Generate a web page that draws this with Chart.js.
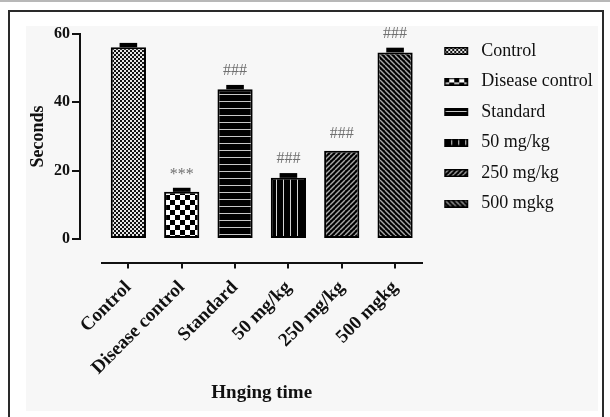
<!DOCTYPE html>
<html><head><meta charset="utf-8">
<script src="https://cdn.jsdelivr.net/npm/chart.js@4.4.1/dist/chart.umd.min.js"></script>
<style>
html,body{margin:0;padding:0;background:#fff;width:610px;height:417px;overflow:hidden}
#topline{position:absolute;left:0;top:0;width:610px;height:2px;background:#b8b8b8}
#frame{position:absolute;left:8px;top:10px;width:596px;height:420px;border:2px solid #2a2a2a;box-sizing:border-box;background:#fff}
#inner{position:absolute;left:26px;top:26px;width:572px;height:385px;background:#f7f7f7}
canvas{position:absolute;left:0;top:0}
</style></head>
<body>
<div id="topline"></div><div id="frame"></div><div id="inner"></div>
<canvas id="c" width="610" height="417"></canvas>
<script>
const categories = ['Control', 'Disease control', 'Standard', '50 mg/kg', '250 mg/kg', '500 mgkg'];
const legendLabels = ['Control', 'Disease control', 'Standard', '50 mg/kg', '250 mg/kg', '500 mgkg'];
const meanSeconds = [56.1, 13.8, 43.8, 17.9, 25.8, 54.6];
const semSeconds = [1.0, 0.9, 1.0, 1.1, 0, 1.1];
const significance = ['', '***', '###', '###', '###', '###'];
const yTicks = [0, 20, 40, 60];

const SERIF = '"Liberation Serif", "Times New Roman", serif';

function tile(w, h, fn) {
  const cv = document.createElement('canvas');
  cv.width = w; cv.height = h;
  fn(cv.getContext('2d'), w, h);
  return cv;
}
const tiles = [
  tile(4, 4, (g) => { g.fillStyle = '#e6e6e6'; g.fillRect(0,0,4,4); g.fillStyle = '#111'; g.fillRect(0,0,2,2); g.fillRect(2,2,2,2); }),
  tile(10, 10, (g) => { g.fillStyle = '#fff'; g.fillRect(0,0,10,10); g.fillStyle = '#000'; g.fillRect(0,0,5,5); g.fillRect(5,5,5,5); }),
  tile(8, 7, (g) => { g.fillStyle = '#000'; g.fillRect(0,0,8,7); g.fillStyle = '#c8c8c8'; g.fillRect(0,3,8,1); }),
  tile(7, 8, (g) => { g.fillStyle = '#000'; g.fillRect(0,0,7,8); g.fillStyle = '#d4d4d4'; g.fillRect(3,0,1,8); }),
  tile(5, 5, (g) => { g.fillStyle = '#000'; g.fillRect(0,0,5,5); g.strokeStyle = '#a8a8a8'; g.lineWidth = 1.4;
    for (const o of [-5, 0, 5]) { g.beginPath(); g.moveTo(o, 5); g.lineTo(o + 5, 0); g.stroke(); } }),
  tile(5, 5, (g) => { g.fillStyle = '#000'; g.fillRect(0,0,5,5); g.strokeStyle = '#a8a8a8'; g.lineWidth = 1.4;
    for (const o of [-5, 0, 5]) { g.beginPath(); g.moveTo(o, 0); g.lineTo(o + 5, 5); g.stroke(); } })
];
const mainCtx = document.getElementById('c').getContext('2d');
const patterns = tiles.map(t => mainCtx.createPattern(t, 'repeat'));

const legendIcons = tiles.map(t => tile(38, 8, (g) => {
  g.fillStyle = g.createPattern(t, 'repeat');
  g.fillRect(10, 0, 24, 8);
  g.strokeStyle = '#000'; g.lineWidth = 1.5;
  g.strokeRect(10.75, 0.75, 22.5, 6.5);
}));

const offsetAxes = {
  id: 'offsetAxes',
  afterLayout(chart) {
    const x = chart.scales.x, y = chart.scales.y;
    x.top += 23.5;
    y.left -= 21.7; y.right -= 21.7;
    const lg = chart.legend;
    if (lg) {
      lg.left = chart.chartArea.right;
      lg.right = chart.width;
      lg.width = lg.right - lg.left;
    }
  }
};

const errorBars = {
  id: 'errorBars',
  afterDatasetsDraw(chart) {
    const c = chart.ctx;
    const ys = chart.scales.y;
    const meta = chart.getDatasetMeta(0);
    c.save();
    meta.data.forEach((bar, i) => {
      const sem = semSeconds[i];
      const top = ys.getPixelForValue(meanSeconds[i] + sem);
      const w = bar.width / 2;
      if (sem > 0) {
        c.fillStyle = '#000';
        c.fillRect(bar.x - w / 2, top - 1, w, bar.y - top + 1);
      }
      if (significance[i]) {
        c.fillStyle = '#707070';
        c.font = '16px ' + SERIF;
        c.textAlign = 'center';
        c.textBaseline = 'middle';
        const gap = significance[i] === '***' ? 14 : (sem > 0 ? 15 : 17.5);
        c.fillText(significance[i], bar.x, top - gap);
      }
    });
    c.restore();
  }
};

new Chart(mainCtx, {
  type: 'bar',
  data: {
    labels: categories,
    datasets: [{
      data: meanSeconds,
      backgroundColor: patterns,
      borderColor: '#000',
      borderWidth: 2,
      borderSkipped: false,
      barPercentage: 0.66,
      categoryPercentage: 1
    }]
  },
  options: {
    responsive: false,
    animation: false,
    devicePixelRatio: 1,
    layout: { padding: { left: 49, right: 64, top: 29.5, bottom: 12.2 } },
    scales: {
      x: {
        offset: true,
        grid: { display: true, offset: false, drawOnChartArea: false, tickLength: 6, color: '#111', lineWidth: 2 },
        border: { display: true, color: '#111', width: 2 },
        ticks: { autoSkip: false, maxRotation: 45, minRotation: 45, padding: 8, color: '#111',
          font: { family: SERIF, size: 19, weight: 'bold' } },
        title: { display: true, text: 'Hnging time', color: '#111',
          font: { family: SERIF, size: 19, weight: 'bold' }, padding: { top: 0, bottom: 0 } },
        afterFit(s) { s.height = 417 - 12.2 - 239; s.paddingLeft = 0; s.paddingRight = 0; }
      },
      y: {
        min: 0, max: 60,
        afterBuildTicks(s) { s.ticks = yTicks.map(v => ({ value: v })); },
        grid: { drawOnChartArea: false, tickLength: 8, color: '#111', lineWidth: 2 },
        border: { color: '#111', width: 2 },
        ticks: { padding: 2, color: '#111', font: { family: SERIF, size: 16, weight: 'bold' } },
        title: { display: true, text: 'Seconds', color: '#111',
          font: { family: SERIF, size: 18, weight: 'bold' }, padding: 0 },
        afterFit(s) { s.width = 101.7 - 49; s.paddingTop = 34; }
      }
    },
    plugins: {
      legend: {
        position: 'right',
        align: 'start',
        labels: {
          usePointStyle: true,
          pointStyleWidth: 38,
          padding: 12.5,
          color: '#111',
          font: { family: SERIF, size: 18 },
          generateLabels() {
            return legendLabels.map((t, i) => ({
              text: t, pointStyle: legendIcons[i], fillStyle: '#000', strokeStyle: '#000',
              lineWidth: 0, hidden: false, index: i, datasetIndex: 0, fontColor: '#111'
            }));
          }
        },
        onClick() {}
      },
      tooltip: { enabled: false }
    }
  },
  plugins: [offsetAxes, errorBars]
});
</script>
</body></html>
